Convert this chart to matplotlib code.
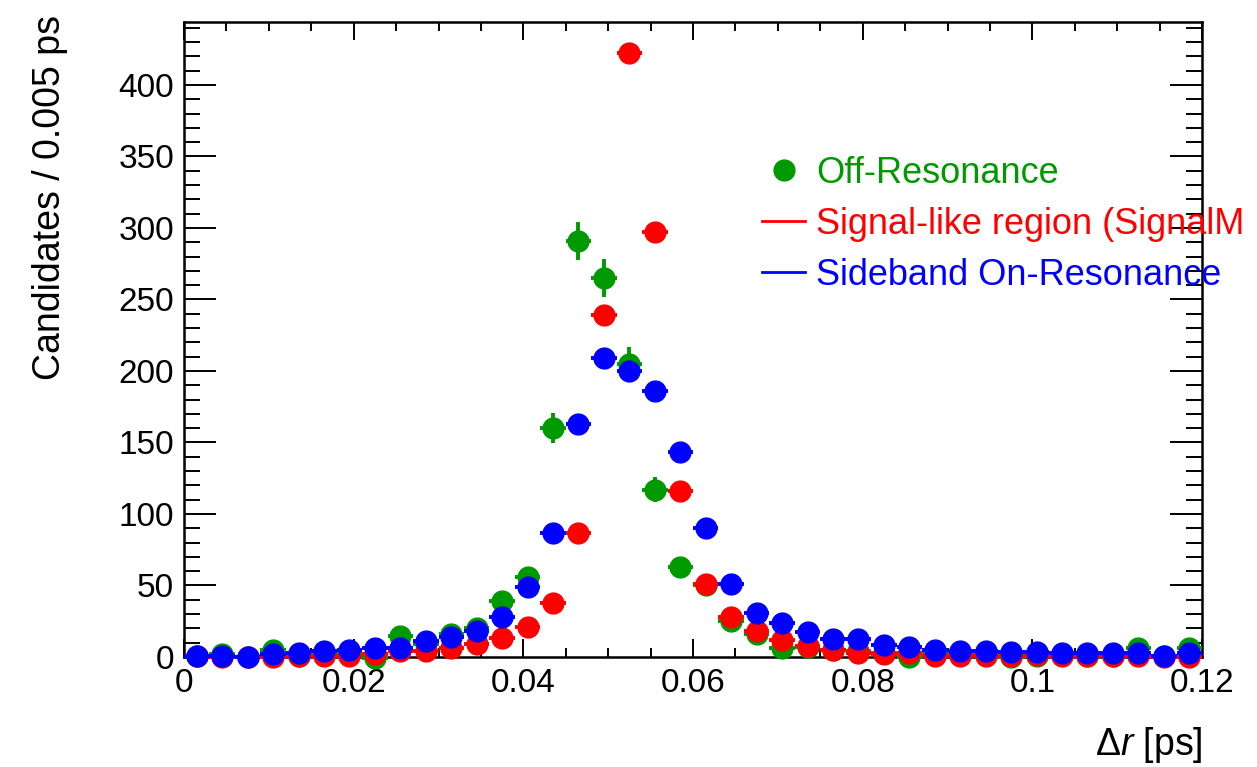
import numpy as np
import matplotlib.pyplot as plt
from matplotlib.lines import Line2D
from matplotlib.ticker import MultipleLocator, FuncFormatter

plt.rcParams['font.family'] = ['Liberation Sans', 'DejaVu Sans']
plt.rcParams['mathtext.fontset'] = 'custom'
plt.rcParams['mathtext.rm'] = 'Liberation Sans'
plt.rcParams['mathtext.it'] = 'Liberation Sans:italic'

# 40 bins of 0.003 ps between 0 and 0.12 ps
bin_edges = np.linspace(0, 0.12, 41)

off_res = [1, 2, 0, 5, 1, 2, 3, -1, 14.5, 9,
           16, 20, 39, 56, 160, 291, 265, 205, 117, 63,
           50, 25, 16, 6.5, 7, 5, 4, 3, 0, 2,
           2, 2, 0, 1, 2, 1, 1, 6, 1, 6]
off_res_err = [0.8, 1.1, 0, 1.8, 0.8, 1.1, 1.4, 0.8, 3, 2.4,
               3.2, 3.6, 5, 6, 10.5, 13.5, 13, 11.5, 8.7, 6.3,
               5.7, 4, 3.2, 2, 2.1, 1.8, 1.6, 1.4, 0, 1.1,
               1.1, 1.1, 0, 0.8, 1.1, 0.8, 0.8, 2, 0.8, 2]
signal_like = [0.5, 0, 0, 0, 1, 1, 1, 2, 4, 4,
               6, 9, 13, 21, 38, 87, 239, 422, 297, 116,
               51, 28, 18, 12, 8, 5, 3, 2, 3, 1,
               1, 1, 1, 1.5, 1, 1, 1, 1, 0, 0]
sideband = [1, 0.5, 0, 2.3, 3, 4, 5, 6.5, 6.5, 11,
            14, 18, 28, 49, 87, 163, 209, 200, 186, 143,
            90, 51, 31, 24, 17.7, 12.8, 12.4, 8.5, 7, 5,
            4, 4, 3.5, 3.5, 2.5, 2.5, 2.5, 2.5, 1, 3]

green = '#009a00'
red = '#ff0000'
blue = '#0000ff'

centers = 0.5 * (bin_edges[:-1] + bin_edges[1:])
half_w = np.diff(bin_edges) / 2

fig = plt.figure(figsize=(12.57, 7.67), dpi=100)
ax = fig.add_axes([184 / 1257, 1 - 657 / 767, 1018 / 1257, 635 / 767])

series = [
    (off_res, off_res_err, green, 3),
    (signal_like, None, red, 4),
    (sideband, None, blue, 5),
]
for vals, err, col, z in series:
    eb = ax.errorbar(centers, vals, xerr=half_w, yerr=err, fmt='o', color=col,
                     ms=15, elinewidth=2.8, capsize=0, zorder=z)
    eb.lines[0].set_clip_on(False)
    for c in eb.lines[2]:
        c.set_clip_on(False)

ax.set_xlim(0, 0.12)
ax.set_ylim(0, 444)

ax.xaxis.set_major_locator(MultipleLocator(0.02))
ax.xaxis.set_minor_locator(MultipleLocator(0.005))
ax.yaxis.set_major_locator(MultipleLocator(50))
ax.yaxis.set_minor_locator(MultipleLocator(10))
ax.xaxis.set_major_formatter(FuncFormatter(lambda v, p: f"{v:g}"))

ax.tick_params(axis='both', which='both', direction='in', top=True, right=True,
               width=1.4, labelsize=24)
ax.tick_params(axis='x', which='major', length=13, pad=8)
ax.tick_params(axis='x', which='minor', length=6.5)
ax.tick_params(axis='y', which='major', length=23, pad=7)
ax.tick_params(axis='y', which='minor', length=11.5)
for sp in ax.spines.values():
    sp.set_linewidth(1.8)

fig.text(50 / 1257, 1 - 15 / 767, 'Candidates / 0.005 ps', rotation=90,
         ha='center', va='top', fontsize=27)
fig.text(1203 / 1257, 1 - 745 / 767, 'Δ$r$ [ps]', ha='right', va='center',
         fontsize=27)

handles = [
    Line2D([], [], color=green, marker='o', ls='none', ms=15),
    Line2D([], [], color=red, lw=2),
    Line2D([], [], color=blue, lw=2),
]
labels = ['Off-Resonance', 'Signal-like region (SignalM', 'Sideband On-Resonance']
fig.legend(handles, labels, loc='upper left',
           bbox_to_anchor=(762 / 1257, 1 - 156 / 767),
           frameon=False, fontsize=26, handlelength=1.2, handletextpad=0.3,
           labelspacing=0.44, borderpad=0, borderaxespad=0,
           labelcolor=[green, red, blue])

fig.savefig('out.png', dpi=100)
